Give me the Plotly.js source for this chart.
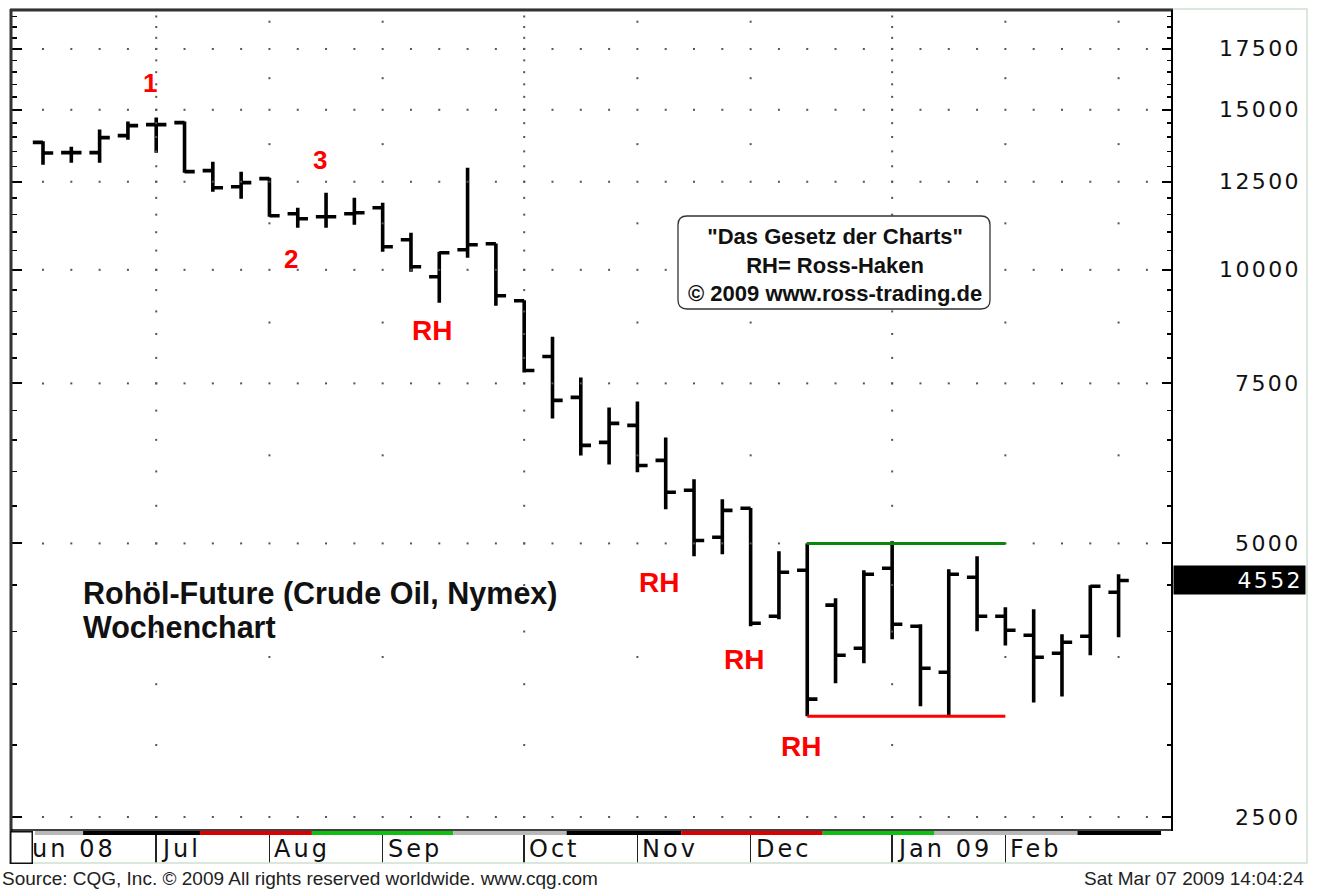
<!DOCTYPE html>
<html>
<head>
<meta charset="utf-8">
<script src="https://cdn.plot.ly/plotly-3.0.1.min.js"></script>
<style>
html,body{margin:0;padding:0;background:#fff;}
#chart{width:1322px;height:890px;}
text.annotation-text[style*="DejaVu"][style*="22px"]{letter-spacing:2.4px;}
text.annotation-text[style*="DejaVu"][style*="24px"]{letter-spacing:3px;}
</style>
</head>
<body>
<div id="chart"></div>
<script>
// ---- weekly bars (week starting Monday), prices in cents ----
var weekDates = ['2008-06-09','2008-06-16','2008-06-23','2008-06-30','2008-07-07','2008-07-14','2008-07-21','2008-07-28',
  '2008-08-04','2008-08-11','2008-08-18','2008-08-25','2008-09-01','2008-09-08','2008-09-15','2008-09-22','2008-09-29',
  '2008-10-06','2008-10-13','2008-10-20','2008-10-27','2008-11-03','2008-11-10','2008-11-17','2008-11-24',
  '2008-12-01','2008-12-08','2008-12-15','2008-12-22','2008-12-29','2009-01-05','2009-01-12','2009-01-19','2009-01-26',
  '2009-02-02','2009-02-09','2009-02-16','2009-02-23','2009-03-02'];
var openPx  = [13810,13456,13456,14048,14447,14522,12856,12345,12598,11527,11439,11527,11704,10791,9825,10521,10683,
  9246,8028,7238,6459,6743,6171,5720,5079,5465,4157,4671,4276,3834,4695,4054,3608,4589,4157,3962,3786,3952,4418];
var highPx  = [13850,13662,14265,14558,14706,14558,13153,12824,12630,11704,12158,12005,11853,10985,10468,12954,10690,
  9260,8443,7613,7056,7165,6541,5881,5591,5470,4901,5000,4352,4671,5029,4074,4683,4840,4253,4232,3971,4497,4624];
var lowPx   = [13054,13120,13120,13907,13456,12791,12189,11974,11439,11125,11125,11209,10468,9950,9199,10309,9130,
  7710,6863,6249,6108,5986,5451,4840,4864,4054,4126,3226,3508,3691,3921,3309,3230,4003,3861,3342,3393,3766,3941];
var closePx = [13447,13456,13978,14410,14447,12824,12313,12471,11468,11382,11439,11557,10601,10077,10441,10655,9363,
  7749,7183,6409,6778,6092,5691,5038,5437,4085,4647,3370,3766,4624,4074,3644,4624,4157,4013,3747,3892,4486,4552];

// ---- trading range (Ross hook box) ----
var rangeStart = '2008-12-15';
var rangeEnd   = '2009-02-02';
var rangeHigh  = 5000;
var rangeLow   = 3228;

// ---- axes ----
var majorLevels = [2500,5000,7500,10000,12500,15000,17500];
var minorLevels = [3000,3500,4000,4500,5500,6000,6500,7000,8000,8500,9000,9500,10500,11000,11500,12000,
  13000,13500,14000,14500,15500,16000,16500,17000,18000,18500,19000];
var midLevels   = [3750,6250,8750,11250,13750,16250,18750];
var monthStarts = ['2008-06-02','2008-07-07','2008-08-04','2008-09-01','2008-10-06','2008-11-03','2008-12-01','2009-01-05','2009-02-02'];
var monthLabels = ['Jun 08','Jul','Aug','Sep','Oct','Nov','Dec','Jan 09','Feb'];
var quarterStarts = ['2008-07-07','2008-10-06','2009-01-05'];
var otherMonthStarts = ['2008-08-04','2008-09-01','2008-11-03','2008-12-01','2009-02-02','2009-03-02'];
var xRange = ['2008-06-01 08:00','2009-03-15 05:00'];
var yRange = [2419, 19315];

// contract band under the time axis
var bandEdges  = ['2008-06-07','2008-06-18 22:00','2008-07-17 20:00','2008-08-14 12:00','2008-09-18 12:00','2008-10-16 12:00',
  '2008-11-13 20:00','2008-12-18 20:00','2009-01-15 12:00','2009-02-19 20:00','2009-03-12 12:00'];
var bandColors = ['#b8b8b8','#000000','#dd0000','#10c010','#b8b8b8','#000000','#dd0000','#10c010','#b8b8b8','#000000'];

// ---- helpers ----
var PL = 12, PT = 10, PW = 1160, PH = 820;
function px(x){ return (x - PL) / PW; }
function py(y){ return (PT + PH - y) / PH; }
function addDays(s, d){ var t = new Date(s + 'T00:00:00Z'); t.setUTCDate(t.getUTCDate() + d); return t.toISOString().slice(0,10); }

// grid dots
var gridWeeks = weekDates.concat([addDays(weekDates[weekDates.length-1], 7)]);
var hx = [], hy = [];
majorLevels.forEach(function(v){ gridWeeks.forEach(function(d){ hx.push(d); hy.push(v); }); });
var allLevels = majorLevels.concat(minorLevels);
var vx = [], vy = [];
quarterStarts.forEach(function(d){ allLevels.forEach(function(v){ vx.push(d); vy.push(v); }); });
otherMonthStarts.forEach(function(d){ midLevels.forEach(function(v){ vx.push(d); vy.push(v); }); });

var traces = [
  {type:'scatter', mode:'markers', x:hx, y:hy, hoverinfo:'skip',
   marker:{symbol:'square', size:2, color:'#555'}},
  {type:'scatter', mode:'markers', x:vx, y:vy, hoverinfo:'skip',
   marker:{symbol:'square', size:2, color:'#555'}},
  {type:'scatter', mode:'lines', x:[rangeStart, rangeEnd], y:[rangeHigh, rangeHigh], hoverinfo:'skip',
   line:{color:'#0a860a', width:3}},
  {type:'scatter', mode:'lines', x:[rangeStart, rangeEnd], y:[rangeLow, rangeLow], hoverinfo:'skip',
   line:{color:'#ff0000', width:3}},
  {type:'ohlc', x:weekDates, open:openPx, high:highPx, low:lowPx, close:closePx, hoverinfo:'none',
   tickwidth:0.36,
   increasing:{line:{color:'#000', width:3.6}}, decreasing:{line:{color:'#000', width:3.6}}}
];

// ---- annotations ----
var ann = [];
majorLevels.forEach(function(v){
  ann.push({xref:'paper', yref:'y', x:px(1303), y:Math.log10(v), xanchor:'right', yanchor:'middle',
    text:String(v), showarrow:false, font:{family:'DejaVu Sans', size:22, color:'#111'}});
});
var lastClose = closePx[closePx.length-1];
ann.push({xref:'paper', yref:'y', x:px(1173), y:Math.log10(lastClose), xanchor:'left', yanchor:'middle',
  text:String(lastClose), showarrow:false, align:'right', width:127, height:24, borderpad:2,
  bgcolor:'#000', font:{family:'DejaVu Sans', size:22, color:'#fff'}});
monthStarts.forEach(function(d, i){
  ann.push({xref:'x', yref:'paper', x:d, y:py(849), xanchor:'left', yanchor:'middle', xshift:3,
    text:monthLabels[i], showarrow:false, font:{family:'DejaVu Sans', size:24, color:'#111'}});
});
// small corner box at the start of the time axis
ann.push({xref:'paper', yref:'paper', x:px(10), y:py(831), xanchor:'left', yanchor:'top',
  text:' ', showarrow:false, width:20, height:30, borderpad:0, borderwidth:1.5, bordercolor:'#111', bgcolor:'#fff'});

function redLabel(t, x, y, s){
  ann.push({xref:'paper', yref:'paper', x:px(x), y:py(y), xanchor:'center', yanchor:'middle',
    text:'<b>'+t+'</b>', showarrow:false, font:{family:'Liberation Sans, Arial, sans-serif', size:s, color:'#ff0000'}});
}
redLabel('1', 150, 83, 26);
redLabel('3', 320, 160, 26);
redLabel('2', 291, 259, 26);
redLabel('RH', 432, 330, 28);
redLabel('RH', 659, 582, 28);
redLabel('RH', 744, 659, 28);
redLabel('RH', 801, 746, 28);

ann.push({xref:'paper', yref:'paper', x:px(81), y:py(593), xanchor:'left', yanchor:'middle',
  text:'<b>Rohöl-Future (Crude Oil, Nymex)</b>', showarrow:false,
  font:{family:'Liberation Sans, Arial, sans-serif', size:30.5, color:'#111'}});
ann.push({xref:'paper', yref:'paper', x:px(81), y:py(627), xanchor:'left', yanchor:'middle',
  text:'<b>Wochenchart</b>', showarrow:false,
  font:{family:'Liberation Sans, Arial, sans-serif', size:30.5, color:'#111'}});

ann.push({xref:'paper', yref:'paper', x:px(835), y:py(265), xanchor:'center', yanchor:'middle',
  text:'<b>"Das Gesetz der Charts"<br>RH= Ross-Haken<br>© 2009 www.ross-trading.de</b>', showarrow:false, align:'center',
  font:{family:'Liberation Sans, Arial, sans-serif', size:22, color:'#111'}});

ann.push({xref:'paper', yref:'paper', x:px(0), y:py(878), xanchor:'left', yanchor:'middle',
  text:'Source: CQG, Inc. © 2009 All rights reserved worldwide. www.cqg.com', showarrow:false,
  font:{family:'Liberation Sans, Arial, sans-serif', size:19, color:'#222'}});
ann.push({xref:'paper', yref:'paper', x:px(1306), y:py(878), xanchor:'right', yanchor:'middle',
  text:'Sat Mar 07 2009 14:04:24', showarrow:false,
  font:{family:'Liberation Sans, Arial, sans-serif', size:19, color:'#222'}});

// ---- shapes ----
var shapes = [];
bandColors.forEach(function(c, i){
  shapes.push({type:'rect', xref:'x', yref:'paper', x0:bandEdges[i], x1:bandEdges[i+1], y0:py(835), y1:py(831),
    fillcolor:c, line:{width:0}, layer:'above'});
});
// outer frame
shapes.push({type:'rect', xref:'paper', yref:'paper', x0:px(11), x1:px(1307), y0:py(863), y1:py(9),
  line:{color:'#cfe0cf', width:1.5}, fillcolor:'rgba(0,0,0,0)', layer:'above'});
// plot frame
shapes.push({type:'line', xref:'paper', yref:'paper', x0:px(10), x1:px(1173), y0:py(10), y1:py(10), line:{color:'#333', width:3}, layer:'above'});
shapes.push({type:'line', xref:'paper', yref:'paper', x0:px(11), x1:px(11), y0:py(9), y1:py(864), line:{color:'#333', width:3}, layer:'above'});
shapes.push({type:'line', xref:'paper', yref:'paper', x0:px(1172), x1:px(1172), y0:py(10), y1:py(831), line:{color:'#000', width:2}, layer:'above'});
shapes.push({type:'line', xref:'paper', yref:'paper', x0:px(11), x1:px(1173), y0:py(830), y1:py(830), line:{color:'#000', width:1.5}, layer:'above'});
// rounded info box
(function(){
  var x0 = px(678), x1 = px(990), yb = py(309), yt = py(216), rx = 9/PW, ry = 9/PH;
  var p = 'M '+(x0+rx)+','+yt+' L '+(x1-rx)+','+yt+' Q '+x1+','+yt+' '+x1+','+(yt-ry)+
          ' L '+x1+','+(yb+ry)+' Q '+x1+','+yb+' '+(x1-rx)+','+yb+
          ' L '+(x0+rx)+','+yb+' Q '+x0+','+yb+' '+x0+','+(yb+ry)+
          ' L '+x0+','+(yt-ry)+' Q '+x0+','+yt+' '+(x0+rx)+','+yt+' Z';
  shapes.push({type:'path', xref:'paper', yref:'paper', path:p, fillcolor:'#fff', line:{color:'#333', width:1.3}, layer:'above'});
})();

var layout = {
  width:1322, height:890,
  margin:{l:PL, r:1322-PL-PW, t:PT, b:890-PT-PH, pad:0},
  paper_bgcolor:'#fff', plot_bgcolor:'#fff',
  showlegend:false, dragmode:false,
  xaxis:{type:'date', range:xRange, tickmode:'array', tickvals:monthStarts, ticks:'outside', ticklen:32,
    tickwidth:1.5, tickcolor:'#222', showticklabels:false, showgrid:false, zeroline:false, showline:false,
    rangeslider:{visible:false}, fixedrange:true},
  yaxis:{type:'log', side:'right', range:[Math.log10(yRange[0]), Math.log10(yRange[1])], tickmode:'array',
    tickvals:majorLevels, ticks:'inside', ticklen:10, tickwidth:2, tickcolor:'#000', mirror:'ticks',
    showticklabels:false, showgrid:false, zeroline:false, showline:false, fixedrange:true,
    minor:{tickmode:'array', tickvals:minorLevels, ticks:'inside', ticklen:5, tickwidth:1.5, tickcolor:'#000', showgrid:false}},
  annotations:ann,
  shapes:shapes
};

Plotly.newPlot('chart', traces, layout, {displayModeBar:false, staticPlot:true});
</script>
</body>
</html>
